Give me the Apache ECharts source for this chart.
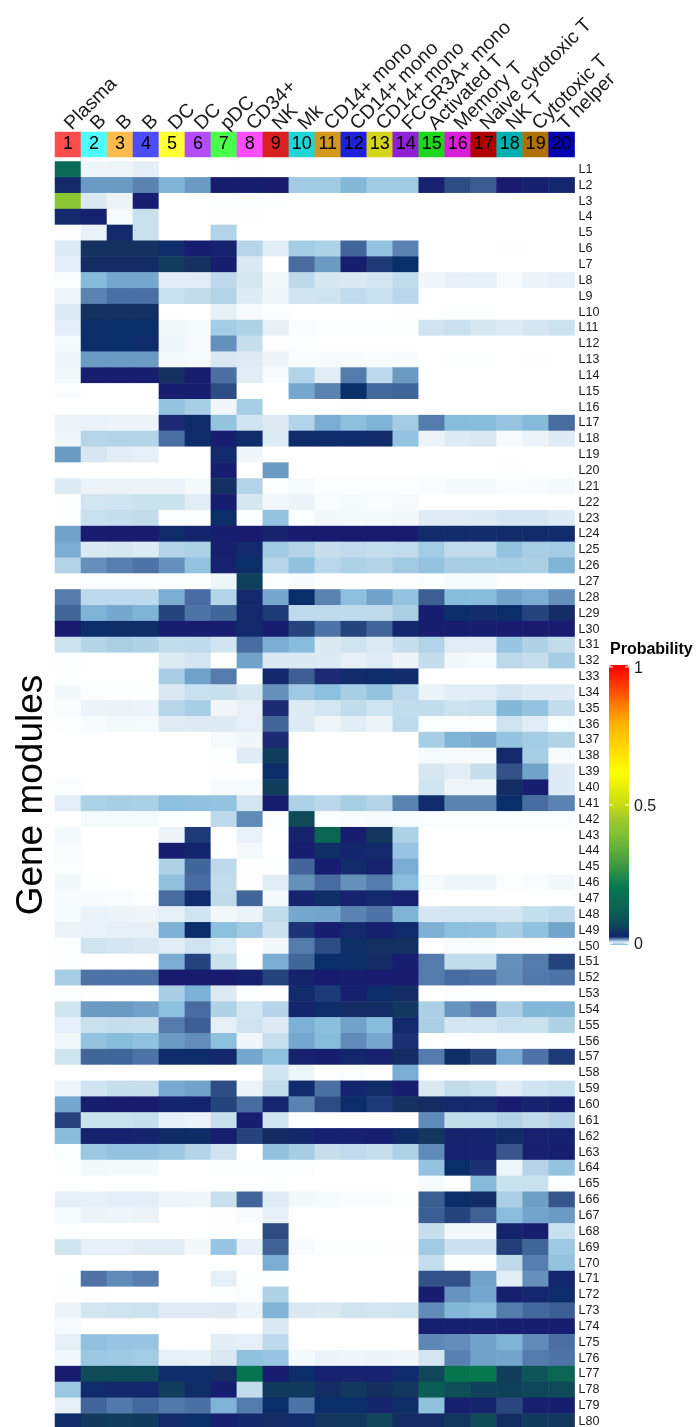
<!DOCTYPE html>
<html><head><meta charset="utf-8">
<style>html,body{margin:0;padding:0;background:#fff;overflow:hidden}#c{width:696px;height:1427px}</style>
<script src="https://cdn.jsdelivr.net/npm/echarts@6/dist/echarts.min.js"></script></head>
<body><div id="c"></div><script>
const cellTypes=["Plasma","B","B","B","DC","DC","pDC","CD34+","NK","Mk","CD14+ mono","CD14+ mono","CD14+ mono","FCGR3A+ mono","Activated T","Memory T","Naive cytotoxic T","NK T","Cytotoxic T","T helper"];
const clusterIds=["1","2","3","4","5","6","7","8","9","10","11","12","13","14","15","16","17","18","19","20"];
const clusterColors=["#ff4d4d","#4dffff","#ffbb4d","#4d4dff","#ffff33","#b34dff","#4dff4d","#ff4dff","#d92020","#1fd6d6","#d29820","#2020d8","#d4d41a","#8f20d4","#1fd61f","#d61fd6","#b00000","#00b0b0","#b07000","#0000b0"];
// Probability per module, in thousandths, columns 1..20
const L1=[160,1.3,1.4,2.3,0,0,0,0.1,0,0,0,0,0,0,0,0,0,0,0,0];
const L2=[25,12.5,12.5,14,10.5,12.5,21,21,20.5,8,8,10.2,8,8,22,18,16.7,20.5,21.5,24];
const L3=[410,3,1.5,21,0,0,0.2,0.3,0.2,0,0,0,0,0,0,0,0,0,0,0];
const L4=[25,22,0.8,4.5,0,0,0.1,0.1,0,0,0,0,0,0,0,0,0,0,0,0];
const L5=[0.1,1.8,25,4.5,0,0,6.5,0,0,0,0,0,0,0,0,0,0,0,0,0];
const L6=[2.8,40,40,40,28,21,22,6,2.5,7.8,7,16,9,14,0,0,0,0.1,0,0];
const L7=[2.3,35,35,35,55,40,21,3,0,15.5,12.5,21,19,30,0,0,0,0,0,0];
const L8=[0.4,10,11.5,11.5,2.5,2.5,5.5,3.3,1,5.5,3.3,3.2,3.6,5,1.2,2,2,0.7,1.5,2];
const L9=[1.4,14,15.3,15.3,4.5,5,6.5,2.8,1.3,3.8,4,5.2,4.5,5.8,0,0,0,0,0,0];
const L10=[2.8,38,38,38,0,0,2,0.7,0.4,0,0,0,0,0.1,0,0.2,0.2,0,0,0];
const L11=[2.3,30,30,30,1,0.8,7.8,6.8,2,0.5,0.3,0.3,0.4,0.2,4,4.5,3.4,2.8,3.5,4.2];
const L12=[0.8,30,30,27,1.3,0.7,13,4.7,0.1,0.3,0,0,0,0,0,0,0,0,0,0];
const L13=[1.2,12.5,12.5,12.5,0.9,0.8,3.2,2.7,1.5,0.5,0.6,0.6,0.5,0.6,0,0.2,0.2,0,0.1,0];
const L14=[1,21,21,21,40,21,15.3,2.5,0.6,6.5,2.5,14.5,5.5,12.5,0,0,0,0,0,0];
const L15=[0.3,0,0,0,21,21,18,0.1,0,11.5,14,30,15.8,16,0,0,0,0,0,0];
const L16=[0,0,0,0,9,7.5,1.2,7.5,0,0,0,0.1,0,0,0,0,0,0,0,0];
const L17=[1.6,1.8,1.5,1.5,19.5,28,9,3.8,2.7,6.5,11,9.5,10.5,7.8,14.5,9.8,9.8,8.8,10,15.5];
const L18=[1.2,6,6.5,6.3,15.3,28,21,28,2.8,28,28,27,26,9,1.5,2.8,3.2,0.7,1.6,2.7];
const L19=[12.5,3.4,2.5,2.1,0,0,25,1.2,0,0,0,0,0,0,0,0,0,0,0,0];
const L20=[0,0,0,0,0,0,21,0,12.5,0,0,0,0,0,0,0,0,0.1,0,0];
const L21=[2.8,1.6,1.5,1.6,1.6,0.9,38,6.5,0.3,0.8,0.3,0.3,0.3,0.3,0.5,0.9,0.9,0.5,0.6,0.9];
const L22=[0.2,3.6,3.8,4.4,4.4,2.5,21,3.4,1.1,1.5,0.5,0.8,0.5,0.7,0,0,0,0,0,0];
const L23=[0.2,4.5,4.7,5,0.4,0.4,31,0.4,9,0.4,1,0.9,0.9,1,2.6,2.6,2.8,3.5,3.5,2.8];
const L24=[12,20.5,20.5,20.5,28,23,21,20.5,22,20.5,20.5,20.5,20.5,20.5,26,26,26,26,26,26];
const L25=[11,3,3.4,2.8,6.5,7,21.5,25,8,6.5,4.7,5.2,4.8,5.2,7.8,5.2,5.2,9,7.5,7.8];
const L26=[6.5,13,14.3,15,13,9,22,30,6,9.2,5.8,7,6.3,8,9,7.5,7.5,7.5,7.2,10.5];
const L27=[0,0.3,0.3,0.3,0.3,0.2,1.3,60,0.3,0.6,0.1,0.1,0.1,0.1,0.4,0.8,0.8,0.1,0.1,0.3];
const L28=[14.5,5.5,5.5,5.5,11,15.5,6.5,25,11.5,30,14,9.5,12,9,16.5,9.8,9.8,12,11,13];
const L29=[16,10.5,11.5,10.5,18.5,15,16,25,19,5.3,5.3,5.3,5.3,7.3,21,30,26,30,18.5,35];
const L30=[20.5,30,32,32,21,21,21,25,21,18.5,15,18.5,16,24,21,21,21,20.5,20.5,20.5];
const L31=[4.2,6.3,7.3,6.8,5,5.3,3.8,15.5,11,9.8,3,3.9,2.9,4.7,6.5,2.5,2.5,8.7,6.8,5];
const L32=[0.3,0,0,0,2.9,3.5,0,12,3.2,3,2.9,2,2.6,1.5,4.9,1,0.8,5.6,4.8,7.7];
const L33=[0.2,0,0,0,7.5,12,14.5,0.1,24,16.5,19.5,26,29,26,0,0,0,0,0,0];
const L34=[1,0.3,0.3,0.2,3.2,4.5,4.6,3.4,13,8.2,9.5,7.5,9,5.6,1.7,2.4,2.4,3.5,2.8,2.7];
const L35=[0.5,1.6,1.7,1.6,6,7.5,1.2,2,19.5,2.8,3.7,5,4,5,5,4.2,4.5,10.2,9,5];
const L36=[0.3,0.6,0.9,0.8,2.6,2.7,2.8,2.1,16,2.7,1.4,2.4,1.5,5.3,0.4,0.3,0.3,4.1,2.5,0.4];
const L37=[0,0,0,0,0,0,0.8,1.2,19.5,0,0,0,0,0,7.5,10.5,11.2,9,7.8,6.6];
const L38=[0,0,0,0,0,0,0.2,2.6,55,0,0,0,0,0,0.8,0.7,0.7,25,7.5,0.7];
const L39=[0,0,0,0,0,0,0.1,0,30,0,0,0,0,0,3.4,2.4,4.7,17.5,12,2.7];
const L40=[0.4,0,0,0,0,0,0.6,0.8,55,0,0,0,0,0,3.8,1.4,1.4,35,21,2.8];
const L41=[2.3,7,7.5,7.2,9.5,9.2,9,3.6,21,7,5.7,7.5,6.3,14,27,14,14,30,15.5,14];
const L42=[0,0.8,0.8,0.8,0.3,0.2,5.5,13.5,0.3,70,0.3,0.5,0.7,0.5,0.4,0.4,0.4,0.4,0.4,0.4];
const L43=[0.9,0,0,0,1.5,19,0,1.8,0,22,140,21,45,7,0,0,0,0,0,0];
const L44=[0.5,0,0,0,21,23,0,0.9,0,21,32,23,25,8.7,0,0,0,0,0,0];
const L45=[0.4,0,0,0,6.7,16,5.5,0.1,0.2,16,21,26,22,11,0,0,0,0,0,0];
const L46=[1,0.2,0,0,9.2,15.5,5,0.1,2.5,13,15.5,13,14.5,9.7,0.8,1.3,1.3,0.3,0.5,1];
const L47=[0.6,0.6,0.5,0.3,15.5,27,5.3,16,0.9,23,32,22,25,22,0,0,0,0,0,0];
const L48=[0.8,1.8,1.5,1.4,2.2,3.8,1,1.5,5,11.5,11.7,14,15,10.5,3.5,3.7,3.7,3.5,4.8,5.4];
const L49=[1.5,1.8,2,2,10.8,30,9.5,8,4.4,19.2,21,25,21.5,27,10.7,9.5,9.3,7.5,9.3,11.8];
const L50=[0.3,3.9,3.5,3.2,2.4,4,2.5,0,1,14.5,18,32,38,38,0,0.5,0.5,0.1,0.1,0.2];
const L51=[0.3,0,0,0,11,18.5,4.4,0.3,11,16,30,31,35,21,14.5,5,5,13,14.5,18.5];
const L52=[7.5,15,15,15,20.5,20.5,20.5,21.5,18.5,22,20.5,21,20.5,20.5,14.5,15.5,15.2,13.2,14.7,15];
const L53=[0.4,0.1,0,0,7.5,10.8,2.9,0.3,0.1,26,19,21.5,30,35,0,0.3,0.3,0,0,0];
const L54=[3.9,12.5,12.5,12,9.5,15.5,6.7,3.7,6.2,23,28,35,35,45,7.2,12.8,14.5,7.2,10.2,10.2];
const L55=[2.1,4.5,4.7,4.6,14.5,16.5,2.2,4,2.7,10.8,9.6,12,9.8,25,7.3,3.7,3.7,4.5,4.4,6.8];
const L56=[1,9,9.8,9.3,12.5,13.2,9.5,1.2,4.6,11.5,9.8,13.5,11.5,19.3,0,0.3,0.1,0.1,0.1,0.2];
const L57=[3.9,16,16,15,27,28,24,11.5,9.3,22,21,24,22,35,14.5,32,18.5,11.3,15,19];
const L58=[0,0,0,0,0,0,0,0,3.8,1.4,0.1,0.4,0.1,11,0,0,0,0,0,0];
const L59=[1.4,4,4.7,4.7,11.3,12,18,1.5,5,27,15.3,23,33,21,3,5,4.5,2.6,4,4.5];
const L60=[11.5,21,20.5,20.5,23,22.5,18.5,15.5,23.5,14,18,30,19,40,35,25,25,20.5,22,21];
const L61=[18.5,4.4,4.4,4.7,2,1.5,4.6,21,4,0.3,0,0,0,0,13.5,4.9,4.9,6.5,5,6.2];
const L62=[9.8,22,22,23,33,33,21,18.5,35,24,21.5,21.5,21,33,45,22,22.5,33,22,21.5];
const L63=[0.4,8.5,9,9,8.5,6.3,4,0,9.2,7.7,4.7,5.2,4.7,7,13.5,22,22,17,21.5,21];
const L64=[0.2,1,0.9,0.9,0,0,0.2,0.3,0.3,0.3,0,0,0,0,9,30,19.3,1.4,6.2,9];
const L65=[0,0,0,0,0,0,0,0,0.2,0,0,0,0,0,0.8,0.1,10,4.4,4.4,0.3];
const L66=[2.2,2,2.3,2.3,1.4,1.2,4.6,16,2.6,1,0.8,0.5,0.5,0.2,16.5,30,33,7.3,12.2,17];
const L67=[0.8,1.5,1.3,1.6,0,0,0.1,0.6,1.9,0,0,0,0,0,16.5,18.5,16.3,9.7,11.8,12.5];
const L68=[0.2,0,0,0,0,0,0.1,0,18,0,0,0,0,0,4.7,1,1,23,21,4.5];
const L69=[3.9,2,2,2.4,2.4,1,8.7,1.9,16.2,0.6,0.2,0.2,0.2,0.1,8,4.3,4.3,18.7,16,8.3];
const L70=[0,0,0,0,0,0,0,0,11,0,0,0,0,0,4.8,0.2,0.2,5.3,14.3,9];
const L71=[0.2,15,13.5,14.3,0,0,2.2,0.2,0.2,0,0,0,0,0,17.5,17.5,12,2.4,13,24];
const L72=[0.1,0.1,0,0,0,0,0.2,0.4,6.7,0,0,0,0,0,21,12.8,11.5,21.5,23.5,28];
const L73=[1.5,3.7,3.9,4.2,2.6,2.6,2.7,1.5,10.5,3.2,3,3.9,3.7,4,13.5,10.2,9.6,14.5,15.8,16.5];
const L74=[0.7,0,0,0,0,0,0.1,0,3,0,0,0,0,0,21.5,21.5,21.5,21,21,21];
const L75=[2.2,9.2,8.7,8.7,0,0,2.4,2.1,5.5,0,0,0,0,0,13.7,13.3,12,10.5,13.5,15.3];
const L76=[1.1,8.5,8.2,7.8,2,1.9,3.2,9.3,8.8,0.9,1.5,1.3,1.5,1.2,3.6,14.2,12,11.7,14.5,15];
const L77=[20.5,70,70,70,28,28,35,190,20.5,30,22,22,22,27,65,195,200,55,90,140];
const L78=[8.5,27,24,24,55,33,21,5,50,50,35,45,37,45,110,80,60,60,65,70];
const L79=[2.2,16,14.7,15.8,14.7,15.3,10.5,14.5,30,15,30,30,23,32,9.3,21.5,22.5,18.3,21.5,21];
const L80=[28,50,55,50,25,30,21.5,24,35,27,45,45,65,35,35,45,70,35,50,45];
const modules=[L1,L2,L3,L4,L5,L6,L7,L8,L9,L10,L11,L12,L13,L14,L15,L16,L17,L18,L19,L20,L21,L22,L23,L24,L25,L26,L27,L28,L29,L30,L31,L32,L33,L34,L35,L36,L37,L38,L39,L40,L41,L42,L43,L44,L45,L46,L47,L48,L49,L50,L51,L52,L53,L54,L55,L56,L57,L58,L59,L60,L61,L62,L63,L64,L65,L66,L67,L68,L69,L70,L71,L72,L73,L74,L75,L76,L77,L78,L79,L80];
const moduleNames=modules.map((_,i)=>"L"+(i+1));
const legendTicks=[0,0.5,1];

const stops=[[-7,"#85badb"],[-0.6,"#85badb"],[0,"#ffffff"],[1,"#f3f8fb"],[2,"#e7f0f7"],[3,"#dbe9f3"],[4,"#cfe3f0"],[5,"#c3dcec"],[6,"#b7d5e9"],[7,"#add1e6"],[8,"#a2cbe3"],[9,"#94c3e0"],[10,"#85badb"],[11,"#7badd3"],[12,"#71a3ca"],[13,"#6590bb"],[14,"#5a83b2"],[15,"#4f73a6"],[16,"#42659a"],[17,"#37568c"],[18,"#2d4c83"],[19,"#1d3a76"],[20,"#191970"],[22,"#16226d"],[25,"#122a6c"],[30,"#0b2d69"],[35,"#142c64"],[40,"#14315f"],[50,"#123a5e"],[60,"#0f415a"],[70,"#0f4a59"],[100,"#0c5a57"],[140,"#0a6652"],[160,"#0a6b55"],[200,"#06774e"],[300,"#4a9f3f"],[400,"#84c434"],[450,"#a0c828"],[500,"#c8dc14"],[620,"#ffff00"],[800,"#ffb000"],[1000,"#ff0000"],[1007,"#ff0000"]];
const hex=s=>[1,3,5].map(i=>parseInt(s.slice(i,i+2),16));
function colorAt(v){for(let i=1;i<stops.length;i++){if(v<=stops[i][0]){const a=stops[i-1],b=stops[i],t=(v-a[0])/(b[0]-a[0]),p=hex(a[1]),q=hex(b[1]);return "rgb("+p.map((x,k)=>Math.round(x+(q[k]-x)*t)).join(",")+")";}}return "#ff0000";}
const ramp=[];for(let v=-7;v<=1007;v+=0.5)ramp.push(colorAt(v));

const cells=[];modules.forEach((row,r)=>row.forEach((v,c)=>cells.push([c,r,v/1000])));
const strip=clusterIds.map((id,i)=>({value:[i,0,id],itemStyle:{color:clusterColors[i]}}));

const barTop=665,barH=280,barL=609,barW=20;
const yOf=v=>barTop+barH*(1.007-v)/1.014;
const graphics=[
 {type:"text",x:32,y:795,rotation:Math.PI/2,style:{text:"Gene modules",font:'37px "Liberation Sans"',fill:"#000",x:0,y:0,textAlign:"center",textVerticalAlign:"middle"}},
 {type:"text",style:{text:"Probability",font:'bold 16px "Liberation Sans"',fill:"#000",x:610,y:650,textVerticalAlign:"middle"}}
];
legendTicks.forEach(v=>{const y=yOf(v);
 graphics.push({type:"line",z:100,shape:{x1:barL,y1:y,x2:barL+4,y2:y},style:{stroke:"#fff",lineWidth:1}});
 graphics.push({type:"line",z:100,shape:{x1:barL+barW-4,y1:y,x2:barL+barW,y2:y},style:{stroke:"#fff",lineWidth:1}});
 graphics.push({type:"text",style:{text:String(v),font:'16px "Liberation Sans"',fill:"#1a1a1a",x:634,y:y+1.5,textVerticalAlign:"middle"}});
});

const chart=echarts.init(document.getElementById("c"),null,{renderer:"canvas",width:696,height:1427});
chart.setOption({
 animation:false,backgroundColor:"#fff",tooltip:{show:false},
 grid:[{left:55,top:161.5,width:519.6,height:1268,outerBoundsMode:"none"},{left:55,top:132,width:519.6,height:25,outerBoundsMode:"none"}],
 xAxis:[
  {type:"category",gridIndex:0,data:clusterIds,show:false},
  {type:"category",gridIndex:1,data:cellTypes,position:"top",axisLine:{show:false},axisTick:{show:false},splitLine:{show:false},
   axisLabel:{interval:0,rotate:-45,margin:5,fontFamily:"Liberation Sans",fontSize:19.5,color:"#1a1a1a"}}
 ],
 yAxis:[
  {type:"category",gridIndex:0,data:moduleNames,inverse:true,position:"right",axisLine:{show:false},axisTick:{show:false},splitLine:{show:false},
   axisLabel:{interval:0,margin:4,fontFamily:"Liberation Sans",fontSize:12.5,color:"#1a1a1a"}},
  {type:"category",gridIndex:1,data:["k"],show:false}
 ],
 visualMap:{type:"continuous",seriesIndex:0,min:-0.007,max:1.007,calculable:false,realtime:false,left:barL,top:barTop,itemWidth:barW,itemHeight:barH,padding:0,text:null,showLabel:false,inRange:{color:ramp},textStyle:{color:"transparent",fontSize:1},formatter:()=>""},
 series:[
  {type:"heatmap",xAxisIndex:0,yAxisIndex:0,data:cells,silent:true,progressive:0,itemStyle:{borderWidth:0}},
  {type:"heatmap",xAxisIndex:1,yAxisIndex:1,data:strip,encode:{x:0,y:1},silent:true,
   label:{show:true,formatter:p=>p.value[2],fontFamily:"Liberation Sans",fontSize:18,color:"#000"}}
 ],
 graphic:graphics
});
</script></body></html>
